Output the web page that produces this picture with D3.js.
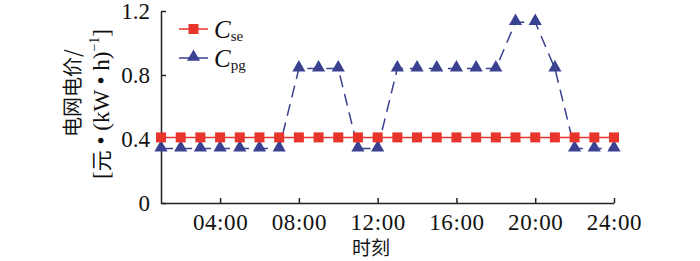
<!DOCTYPE html>
<html>
<head>
<meta charset="utf-8">
<script src="https://cdn.jsdelivr.net/npm/d3@7"></script>
<style>
  body { margin: 0; background: #fff; }
  svg text { font-family: "Liberation Serif", "Times New Roman", serif; }
  .cjk { font-family: "Noto Sans CJK SC", sans-serif; }
</style>
</head>
<body>
<div id="chartDiv" style="width:700px;height:261px"></div>
<script>
const hours = d3.range(1, 25);
const cSe = [0.41,0.41,0.41,0.41,0.41,0.41,0.41,0.41,0.41,0.41,0.41,0.41,
             0.41,0.41,0.41,0.41,0.41,0.41,0.41,0.41,0.41,0.41,0.41,0.41];
const cPg = [0.34,0.34,0.34,0.34,0.34,0.34,0.34,0.84,0.84,0.84,0.34,0.34,
             0.84,0.84,0.84,0.84,0.84,0.84,1.13,1.13,0.84,0.34,0.34,0.34];
const xTicks = [4, 8, 12, 16, 20, 24];
const xTickLabels = ["04:00", "08:00", "12:00", "16:00", "20:00", "24:00"];
const yTicks = [0, 0.4, 0.8, 1.2];

const width = 700, height = 261;
const margin = {left: 161, right: 86, top: 11, bottom: 58};
const red = "#e8352c", blue = "#3a4190";

const svg = d3.select("#chartDiv").append("svg")
    .attr("width", width)
    .attr("height", height);

const x = d3.scaleLinear().domain([1, 24]).range([margin.left, width - margin.right]);
const y = d3.scaleLinear().domain([0, 1.2]).range([height - margin.bottom, margin.top]);

// axes
const xAxis = svg.append("g")
    .attr("transform", `translate(0,${height - margin.bottom})`)
    .call(d3.axisBottom(x).tickValues(xTicks).tickFormat((d, i) => xTickLabels[i])
      .tickSizeInner(-5).tickSizeOuter(0).tickPadding(11));
const yAxis = svg.append("g")
    .attr("transform", `translate(${margin.left},0)`)
    .call(d3.axisLeft(y).tickValues(yTicks).tickFormat(d => d === 0 ? "0" : d3.format(".1f")(d))
      .tickSizeInner(-5).tickSizeOuter(0).tickPadding(11));
[xAxis, yAxis].forEach(a => {
  a.attr("font-family", null);
  a.selectAll("path, line").attr("stroke", "#222").attr("stroke-width", 1.5);
  a.selectAll("text").attr("font-size", 23).attr("fill", "#111")
    .style("font-family", "'Liberation Serif', 'Times New Roman', serif");
});
xAxis.selectAll("text").attr("letter-spacing", 0.6);

// lines
const line = d3.line().x((d, i) => x(hours[i])).y(d => y(d));
svg.append("path").datum(cSe).attr("d", line)
    .attr("fill", "none").attr("stroke", red).attr("stroke-width", 1.5);
svg.append("path").datum(cPg).attr("d", line)
    .attr("fill", "none").attr("stroke", blue).attr("stroke-width", 1.5)
    .attr("stroke-dasharray", "12,7");

const tri = d3.symbol().type(d3.symbolTriangle).size(75);
svg.append("g").selectAll("path").data(cPg).join("path")
    .attr("d", tri)
    .attr("transform", (d, i) => `translate(${x(hours[i])},${y(d) - 1})`)
    .attr("fill", blue);
svg.append("g").selectAll("rect").data(cSe).join("rect")
    .attr("x", (d, i) => x(hours[i]) - 5)
    .attr("y", d => y(d) - 5)
    .attr("width", 10).attr("height", 10)
    .attr("fill", red);

// legend
const legend = [
  {name: "se", color: red, type: "square", y: 29},
  {name: "pg", color: blue, type: "triangle", y: 58}
];
legend.forEach(l => {
  const g = svg.append("g").attr("transform", `translate(179,${l.y})`);
  g.append("line").attr("x1", 0).attr("x2", 29).attr("stroke", l.color).attr("stroke-width", 1.5);
  if (l.type === "square") {
    g.append("rect").attr("x", 9.5).attr("y", -5).attr("width", 10).attr("height", 10).attr("fill", l.color);
  } else {
    g.append("path").attr("d", tri).attr("transform", "translate(14.5,-1)").attr("fill", l.color);
  }
  const t = g.append("text").attr("x", 35).attr("y", 9).attr("font-size", 25).attr("fill", "#111");
  t.append("tspan").attr("font-style", "italic").text("C");
  t.append("tspan").attr("font-size", 15).attr("dy", 3).text(l.name);
});

// axis titles
svg.append("text").attr("class", "cjk")
    .attr("transform", "translate(80,93) rotate(-90)")
    .attr("text-anchor", "middle").attr("font-size", 20).attr("fill", "#111")
    .text("电网电价/");
const t2 = svg.append("text")
    .attr("transform", "translate(109,104) rotate(-90)")
    .attr("text-anchor", "middle").attr("font-size", 23).attr("fill", "#111");
t2.append("tspan").text("[");
t2.append("tspan").attr("class", "cjk").attr("font-size", 21).text("元");
t2.append("tspan").text(" • (kW • h)");
t2.append("tspan").attr("font-size", 14).attr("dy", -10).text("−1");
t2.append("tspan").attr("dy", 10).text("]");

svg.append("text").attr("class", "cjk")
    .attr("x", 371).attr("y", 255)
    .attr("text-anchor", "middle").attr("font-size", 19).attr("fill", "#111")
    .text("时刻");
</script>
</body>
</html>
